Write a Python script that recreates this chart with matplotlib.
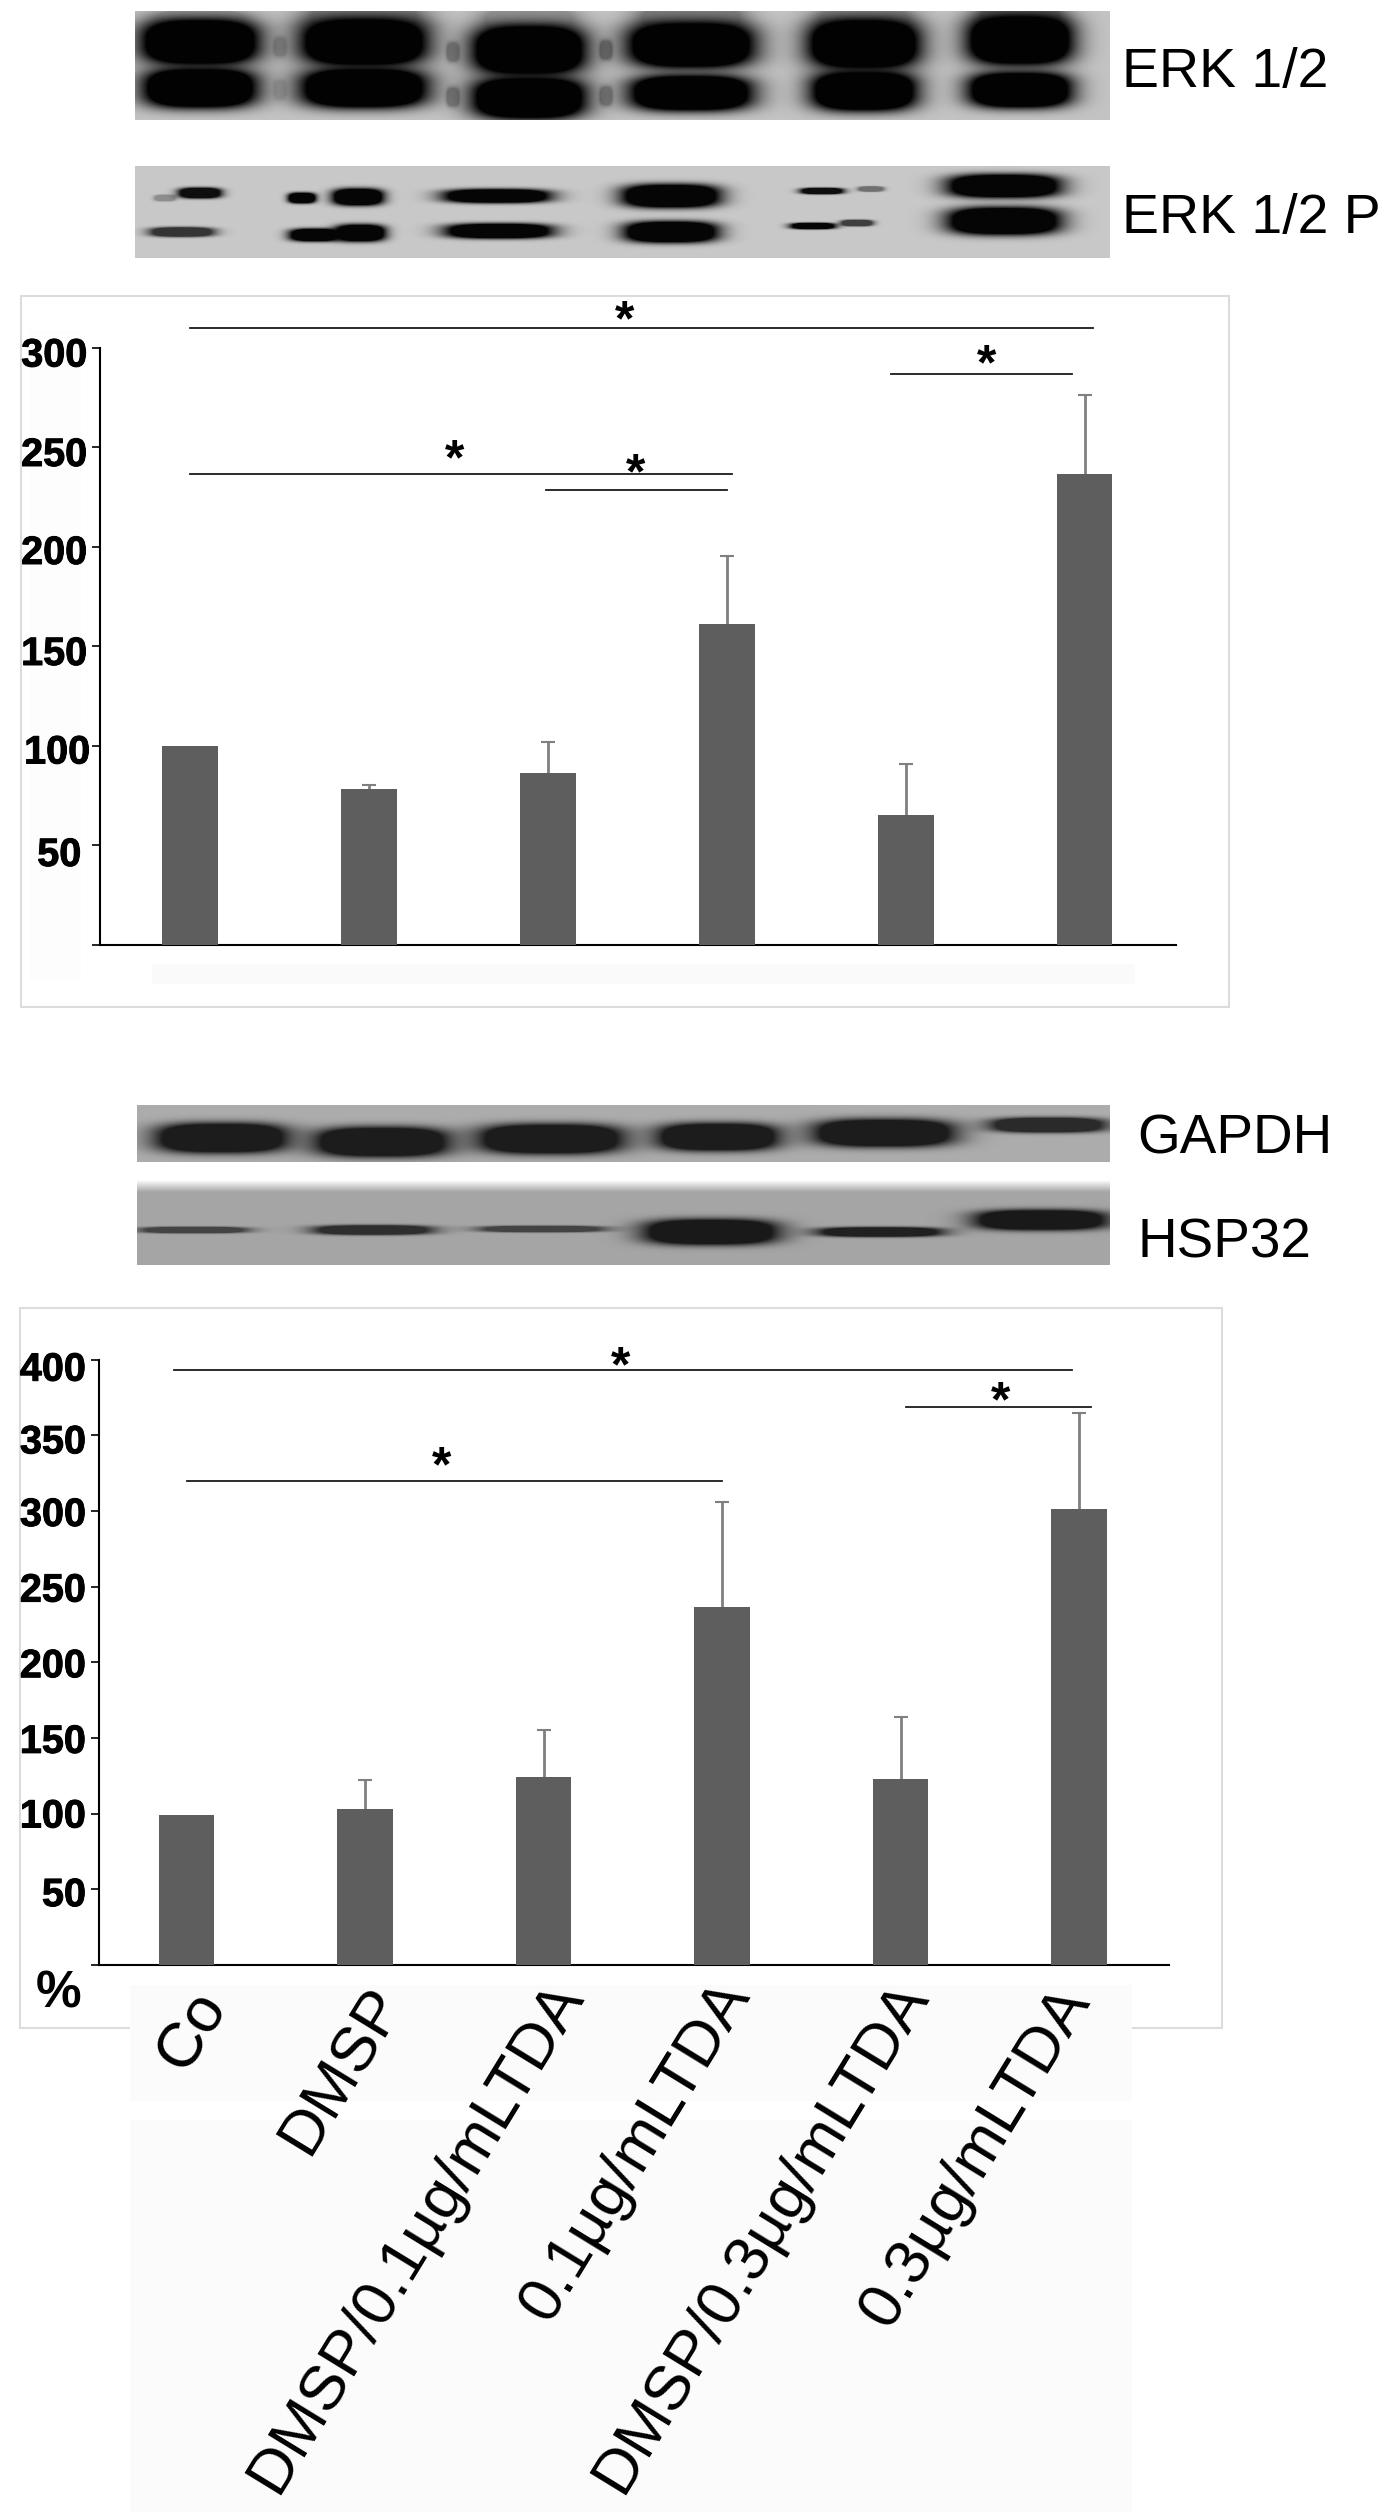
import numpy as np
import matplotlib
matplotlib.use('Agg')
import matplotlib.pyplot as plt
import matplotlib.patheffects as pe
from matplotlib.patches import Rectangle
from matplotlib.transforms import ScaledTranslation

plt.rcParams['font.family'] = ['Liberation Sans', 'DejaVu Sans']

W, H = 1393, 2512

# bar data
erk_values = [100, 78, 86, 161, 65, 236.5]
erk_err = [0, 2, 16, 34, 25.5, 39.5]
hsp_values = [99, 103, 124, 236.5, 123, 301]
hsp_err = [0, 19, 31, 69.5, 41, 64]

erk_ticks = [0, 50, 100, 150, 200, 250, 300]
hsp_ticks = [0, 50, 100, 150, 200, 250, 300, 350, 400]

# significance lines: start bar, end bar, level
erk_sig = [(0.0, 5.05, 309.8), (0.0, 3.03, 236.4), (1.99, 3.0, 228.4), (3.92, 4.93, 286.7)]
hsp_sig = [(-0.07, 4.96, 393.5), (0.0, 3.0, 320), (4.03, 5.07, 368.5)]
# stars: x in bar units, level
erk_stars = [(2.43, 320.8), (1.48, 251), (2.49, 244), (4.45, 298.5)]
hsp_stars = [(2.43, 405), (1.43, 339), (4.56, 382)]

labels = ['Co', 'DMSP', 'DMSP/0.1µg/mLTDA', '0.1µg/mLTDA', 'DMSP/0.3µg/mLTDA', '0.3µg/mLTDA']

# blot bands: centre x, centre y, half width, half height, darkness (in image pixels)
erk_bands = [
    (200, 42, 56, 22, 1), (364, 42, 60, 23, 1), (529, 50, 54, 24, 1), (691, 45, 60, 22, 1),
    (864, 44, 53, 24, 1), (1020, 40, 50, 24, 1),
    (200, 88, 54, 19, 1), (364, 88, 60, 19, 1), (529, 98, 54, 20, 1), (691, 93, 58, 17, 1),
    (864, 91, 50, 19, 1), (1020, 90, 49, 17, 1),
    (200, 20, 45, 10, 0.2), (364, 18, 55, 12, 0.35), (529, 20, 45, 12, 0.25), (691, 18, 50, 12, 0.35),
    (864, 18, 45, 10, 0.3), (1020, 16, 40, 10, 0.4),
    (280, 47, 6, 9, 0.2), (280, 90, 6, 9, 0.12), (453, 52, 6, 9, 0.3), (453, 97, 6, 9, 0.3),
    (606, 50, 6, 9, 0.35), (606, 96, 6, 9, 0.3),
]
erkp_bands = [
    (200, 193, 20, 5, 0.95), (165, 198, 10, 3, 0.3), (182, 232, 30, 4.5, 0.75),
    (302, 198, 13, 5, 1), (358, 197, 24, 8, 1), (315, 235, 24, 6, 1), (360, 233, 24, 8, 1),
    (497, 196, 50, 6.5, 1), (499, 231, 50, 7, 1),
    (671, 196, 46, 11, 1), (671, 232, 44, 10, 1),
    (822, 191, 20, 3, 0.95), (871, 189, 12, 2.5, 0.45), (813, 226, 21, 3, 1), (857, 223, 15, 3, 0.7),
    (1004, 186, 53, 11, 1), (1004, 221, 53, 13, 1),
]
gapdh_bands = [
    (222, 1138, 62, 14, 1), (382, 1142, 63, 14, 1), (551, 1139, 68, 14, 1),
    (718, 1137, 57, 13, 1), (884, 1133, 66, 13, 1), (1048, 1125, 54, 7, 0.9),
]
hsp_bands = [
    (194, 1230, 50, 3, 0.7), (373, 1230, 55, 4.5, 0.85), (542, 1229, 58, 3, 0.7),
    (711, 1232, 63, 12, 1), (880, 1232, 58, 4.5, 0.95), (1041, 1220, 62, 9.5, 1),
]


def blot(ax, box, bands, bg, dark, fade_top=0):
    x0, x1, y0, y1 = box
    xx, yy = np.meshgrid(np.arange(x0, x1) + 0.5, np.arange(y0, y1) + 0.5)
    ink = np.ones_like(xx)
    for cx, cy, a, b, d in bands:
        # elliptical blob, saturated in the middle
        r = np.abs((xx - cx) / a) ** 3 + np.abs((yy - cy) / b) ** 3
        ink *= 1 - d * np.minimum(1, 2.4 * np.exp(-r))
    ink = 1 - ink
    img = bg * (1 - ink) + dark * ink
    if fade_top:
        t = np.clip((yy - y0) / fade_top, 0, 1)
        img = 255 * (1 - t) + img * t
    ax.imshow(img, extent=(x0, x1, y1, y0), cmap='gray', vmin=0, vmax=255,
              aspect='auto', interpolation='bilinear', zorder=2)


def axes_px(left, right, top, bottom):
    return fig.add_axes([left / W, 1 - bottom / H, (right - left) / W, (bottom - top) / H])


def bar_panel(ax, values, err, ticks, sig, stars, c0, step, left, right, ymax, nudges, bw):
    pos = np.arange(len(values))
    ax.patch.set_alpha(0)
    ax.bar(pos, values, width=bw, color='#5e5e5e', zorder=3)
    # the lower half of each whisker stays hidden behind its bar
    ax.errorbar(pos[1:], values[1:], yerr=err[1:], fmt='none', ecolor='#808080',
                elinewidth=2, capsize=5, capthick=1.5, zorder=2)
    ax.set_xlim((left - c0) / step, (right - c0) / step)
    ax.set_ylim(0, ymax)
    for s in ['top', 'right']:
        ax.spines[s].set_visible(False)
    for s in ['left', 'bottom']:
        ax.spines[s].set_linewidth(1.5)
    ax.set_xticks([])
    ax.set_yticks(ticks)
    ax.set_yticklabels([''] + [str(t) for t in ticks[1:]], fontsize=28.5, fontweight='bold')
    ax.tick_params(axis='y', length=6, width=1.2, pad=3)
    for lab, (dx, dy) in zip(ax.get_yticklabels(), nudges):
        lab.set_transform(lab.get_transform() + ScaledTranslation(dx / 100, -dy / 100, fig.dpi_scale_trans))
        lab.set_path_effects([pe.withStroke(linewidth=0.7, foreground='black')])
    for a, b, y in sig:
        ax.plot([a, b], [y, y], color='#1a1a1a', lw=1.3, clip_on=False, zorder=4)
    for x, y in stars:
        ax.annotate('*', (x, y), xytext=(0, -21), textcoords='offset points', ha='center',
                    va='baseline', fontsize=36, fontweight='bold', annotation_clip=False, zorder=5)


fig = plt.figure(figsize=(W / 100, H / 100), dpi=100, facecolor='white')

# page layer in image pixels
bg = fig.add_axes([0, 0, 1, 1], zorder=0)
bg.set_xlim(0, W)
bg.set_ylim(H, 0)
bg.axis('off')

for x0, y0, x1, y1 in [(21, 296, 1229, 1007), (20, 1308, 1222, 2028)]:
    bg.add_patch(Rectangle((x0, y0), x1 - x0, y1 - y0, fc='white', ec='#dcdcdc', lw=1.5, zorder=1))
bg.add_patch(Rectangle((29, 330), 52, 650, fc='#fdfdfd', ec='none', zorder=1))
bg.add_patch(Rectangle((152, 964), 983, 20, fc='#fafafa', ec='none', zorder=1))
bg.add_patch(Rectangle((130, 1985), 1002, 116, fc='#fbfbfb', ec='none', zorder=1.5))
bg.add_patch(Rectangle((130, 2101), 1002, 19, fc='white', ec='none', zorder=1.5))
bg.add_patch(Rectangle((130, 2120), 1002, 392, fc='#fbfbfb', ec='none', zorder=1.5))

blot(bg, (135, 1110, 11, 120), erk_bands, 195, 2)
blot(bg, (135, 1110, 166, 258), erkp_bands, 200, 5)
blot(bg, (137, 1110, 1105, 1162), gapdh_bands, 172, 28)
blot(bg, (137, 1110, 1180, 1265), hsp_bands, 165, 25, fade_top=12)
bg.set_xlim(0, W)
bg.set_ylim(H, 0)

for txt, x, y, fs in [('ERK 1/2', 1122, 87, 40), ('ERK 1/2 P', 1122, 233, 40),
                      ('GAPDH', 1137, 1153, 39.5), ('HSP32', 1137, 1257, 39.5)]:
    bg.text(x, y, txt, fontsize=fs, ha='left', va='baseline', zorder=3)

bg.text(36, 2008, '%', fontsize=37, fontweight='bold', ha='left', va='baseline', zorder=3)

# rotated group labels, anchored at their upper right end
label_x = [214, 390, 570, 737, 915, 1077]
label_y = [1996, 1992, 1986, 1986, 1986, 1992]
for txt, x, y in zip(labels, label_x, label_y):
    bg.text(x, y, txt, fontsize=45.5, rotation=58.5, rotation_mode='anchor', ha='right', va='center', zorder=3)

ax1 = axes_px(100, 1176, 347.5, 944.5)
ax1.set_zorder(1)
bar_panel(ax1, erk_values, erk_err, erk_ticks, erk_sig, erk_stars, 190, 178.9, 100, 1176, 300,
          [(0, 0), (-6, 6), (3, 3), (0, 4), (0, 2.5), (0, 4), (0, 4)], 0.313)

ax2 = axes_px(98.7, 1169, 1359.7, 1964.8)
ax2.set_zorder(1)
bar_panel(ax2, hsp_values, hsp_err, hsp_ticks, hsp_sig, hsp_stars, 186.5, 178.5, 98.7, 1169, 400,
          [(0, 0), (0, 2), (0, -1), (0, 0), (0, 0), (0, 0), (0, 0), (0, 3), (0, 6)], 0.31)

plt.savefig('out.png', dpi=100)
plt.close()
